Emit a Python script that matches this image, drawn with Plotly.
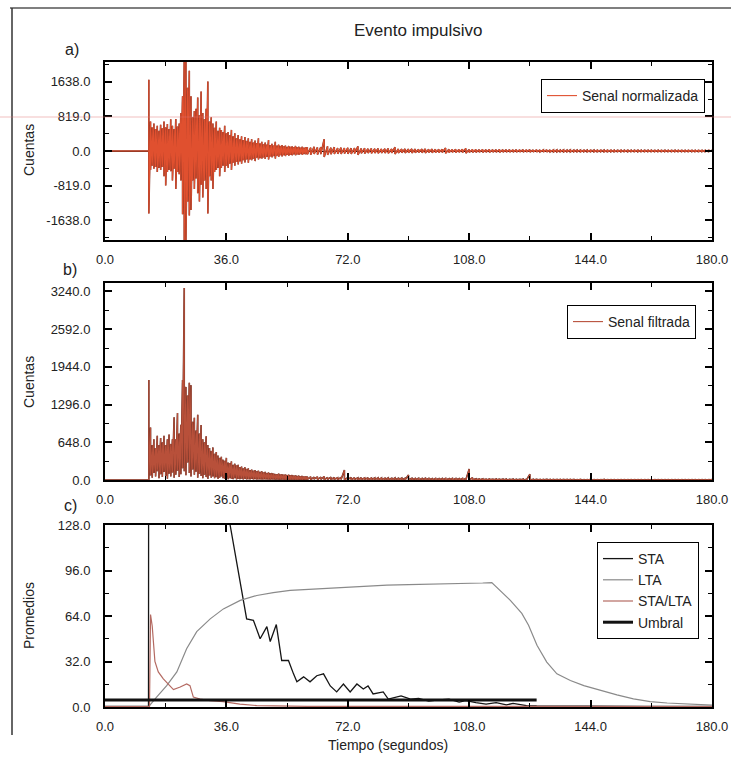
import numpy as np
import plotly.graph_objects as go

FONT = "Liberation Sans Narrow, Liberation Sans, Arial, sans-serif"

# ---------------- tick labels ----------------
x_tickvals = [0, 36, 72, 108, 144, 180]
x_ticktext = ["0.0", "36.0", "72.0", "108.0", "144.0", "180.0"]
a_tickvals = [-1638, -819, 0, 819, 1638]
a_ticktext = ["-1638.0", "-819.0", "0.0", "819.0", "1638.0"]
b_tickvals = [0, 648, 1296, 1944, 2592, 3240]
b_ticktext = ["0.0", "648.0", "1296.0", "1944.0", "2592.0", "3240.0"]
c_tickvals = [0, 32, 64, 96, 128]
c_ticktext = ["0.0", "32.0", "64.0", "96.0", "128.0"]

# ---------------- sampling grids (s) ----------------
t_pre = [0.0, 13.0]
t_strong = np.arange(13.0, 60.0, 0.5)   # 94 samples
t_coda = np.arange(60.0, 181.0, 1.0)    # 121 samples

# ---------------- a) normalized signal: positive / negative peaks ----------------
a_pre = [0, 0]
a_up_strong = [
    1690, 700, 560, 650, 520, 600, 480, 620, 540, 700,
    560, 640, 520, 750, 600, 520, 760, 580, 650, 900,
    1300, 2200, 2150, 1500, 1900, 1300, 800, 950, 1000, 1270,
    850, 1410, 900, 750, 1000, 1650, 700, 800, 650, 550,
    700, 480, 550, 500, 450, 600, 420, 450, 380, 500,
    350, 420, 300, 380, 280, 350, 260, 330, 240, 300,
    220, 280, 200, 250, 190, 300, 180, 220, 160, 200,
    150, 260, 140, 170, 130, 220, 130, 150, 120, 140,
    110, 130, 100, 120, 100, 110, 90, 120, 90, 100,
    80, 100, 80, 90]
a_lo_strong = [
    -1480, -450, -350, -420, -380, -500, -400, -450, -380, -600,
    -820, -500, -450, -480, -700, -420, -900, -500, -550, -700,
    -1500, -2200, -2150, -1200, -1530, -1400, -700, -900, -650, -1000,
    -1200, -800, -1100, -700, -900, -1480, -600, -700, -900, -500,
    -450, -400, -600, -400, -350, -500, -350, -400, -300, -450,
    -280, -350, -260, -320, -250, -300, -220, -270, -200, -280,
    -200, -220, -180, -240, -160, -200, -170, -180, -150, -190,
    -140, -200, -130, -150, -120, -180, -110, -140, -100, -130,
    -100, -120, -90, -110, -90, -100, -80, -100, -80, -90,
    -70, -90, -70, -80]
a_up_coda = [
    90, 80, 100, 85, 90, 280, 110, 80, 90, 70,
    80, 70, 75, 65, 70, 110, 60, 65, 55, 60,
    55, 60, 50, 55, 60, 50, 90, 50, 45, 50,
    45, 50, 45, 40, 45, 50, 40, 45, 40, 40,
    40, 70, 40, 35, 40, 35, 40, 60, 35, 35,
    35, 30, 35, 30, 35, 30, 30, 35, 30, 30,
    30, 28, 30, 28, 30, 28, 30, 25, 28, 25,
    25, 28, 25, 25, 25, 22, 25, 22, 25, 22,
    22, 22, 20, 22, 20, 22, 20, 20, 22, 20,
    20, 20, 18, 20, 18, 20, 18, 18, 20, 18,
    18, 18, 18, 16, 18, 16, 18, 16, 16, 18,
    16, 16, 16, 15, 16, 15, 16, 15, 15, 16, 15]
a_lo_coda = [
    -80, -90, -70, -85, -75, -140, -90, -75, -70, -65,
    -70, -60, -65, -70, -60, -90, -55, -60, -50, -55,
    -50, -55, -45, -50, -55, -45, -70, -45, -40, -45,
    -40, -45, -40, -35, -40, -45, -35, -40, -35, -35,
    -35, -55, -35, -30, -35, -30, -35, -50, -30, -30,
    -30, -28, -30, -28, -30, -25, -28, -30, -25, -25,
    -25, -25, -25, -22, -25, -22, -25, -22, -22, -20,
    -22, -22, -20, -20, -20, -18, -20, -18, -20, -18,
    -18, -18, -16, -18, -16, -18, -16, -16, -18, -16,
    -16, -16, -15, -16, -15, -16, -15, -15, -16, -15,
    -15, -15, -14, -15, -14, -15, -14, -14, -15, -14,
    -14, -14, -13, -14, -13, -14, -13, -13, -14, -13, -13]

# ---------------- b) filtered signal: peaks / troughs ----------------
b_pre = [0, 0]
b_up_strong = [
    1720, 900, 600, 700, 550, 760, 600, 720, 650, 760,
    600, 700, 780, 620, 700, 1080, 700, 1150, 800, 950,
    1720, 3300, 1600, 1450, 1670, 1630, 1000, 1070, 850, 1120,
    800, 945, 700, 650, 750, 600, 550, 500, 560, 450,
    480, 420, 380, 400, 350, 330, 380, 300, 290, 320,
    260, 280, 250, 260, 220, 230, 200, 220, 190, 200,
    170, 180, 160, 170, 150, 160, 140, 150, 130, 140,
    120, 130, 115, 120, 110, 105, 100, 110, 95, 100,
    90, 95, 85, 90, 80, 85, 75, 80, 70, 75,
    65, 70, 60, 65]
b_lo_strong = [
    0, 80, 40, 120, 60, 150, 30, 100, 50, 140,
    70, 20, 110, 60, 130, 40, 90, 160, 50, 100,
    200, 150, 80, 300, 120, 60, 180, 90, 140, 40,
    110, 70, 30, 90, 50, 20, 80, 40, 60, 30,
    50, 20, 40, 60, 30, 20, 40, 15, 30, 20,
    15, 30, 10, 20, 15, 25, 10, 20, 10, 15,
    10, 20, 10, 15, 8, 12, 10, 8, 12, 10,
    8, 10, 6, 8, 10, 6, 8, 6, 5, 8,
    5, 6, 5, 4, 6, 5, 4, 5, 4, 3,
    4, 3, 4, 3]
b_up_coda = [
    60, 55, 50, 55, 50, 60, 45, 50, 45, 40,
    45, 170, 40, 45, 40, 38, 40, 35, 40, 35,
    35, 38, 35, 32, 35, 30, 35, 30, 32, 30,
    85, 30, 28, 30, 28, 30, 28, 25, 28, 25,
    25, 28, 25, 28, 25, 25, 28, 25, 190, 40,
    20, 18, 20, 15, 18, 15, 18, 15, 15, 15,
    12, 15, 12, 12, 15, 12, 100, 12, 12, 10,
    10, 12, 10, 10, 10, 10, 10, 10, 10, 10,
    8, 10, 8, 8, 10, 8, 8, 8, 10, 8,
    8, 8, 8, 8, 8, 8, 8, 8, 8, 8,
    6, 8, 6, 6, 8, 6, 6, 6, 8, 6,
    6, 6, 6, 6, 6, 6, 6, 6, 6, 6, 6]
b_lo_coda = [
    10, 5, 15, 8, 12, 5, 10, 6, 12, 5,
    8, 4, 10, 5, 8, 4, 8, 5, 6, 4,
    6, 3, 6, 4, 5, 3, 5, 3, 4, 3,
    4, 3, 4, 2, 4, 3, 3, 2, 3, 2,
    3, 2, 3, 2, 3, 2, 2, 2, 3, 2,
    2, 1, 2, 1, 2, 1, 2, 1, 1, 1,
    1, 1, 1, 1, 1, 1, 1, 1, 1, 1,
    1, 1, 1, 1, 1, 1, 1, 1, 1, 1,
    1, 1, 1, 1, 1, 1, 1, 1, 1, 1,
    1, 1, 1, 1, 1, 1, 1, 1, 1, 1,
    1, 1, 1, 1, 1, 1, 1, 1, 1, 1,
    1, 1, 1, 1, 1, 1, 1, 1, 1, 1, 1]

# ---------------- c) averages ----------------
sta_t = [0, 12.9, 13.1, 20, 30, 37.1, 42.0, 44.0, 46.0, 48.0, 49.0, 50.8, 52.4, 54.4,
         55.9, 56.9, 58.9, 60.8, 62.8, 64.8, 66.8, 68.7, 70.7, 72.7, 74.7, 76.6, 78.0,
         79.5, 82.5, 84.0, 87.8, 90.6, 93.0, 96.0, 99.0, 102.0, 105.0, 107.0, 110.0,
         113.0, 116.0, 119.0, 121.0, 125.0, 128.0, 140.0, 160.0, 180.0]
sta_v = [0.5, 0.5, 900, 500, 250, 128, 62, 61, 48, 56.5, 46, 58, 32.7, 32.7,
         23.3, 17.7, 21.2, 17.7, 22, 23.3, 14.8, 10.6, 16.2, 10.6, 16.2, 12.7, 14.8,
         9.2, 10.6, 5.6, 7.8, 5.6, 6, 4.2, 5, 5.6, 3.5, 4.5, 3,
         2, 3, 1.5, 2.5, 1, 0.8, 0.6, 0.5, 0.5]
lta_t = [0, 13.0, 15.3, 18.3, 21.3, 24.2, 27.2, 31.2, 35.1, 40.1, 45.0, 49.9, 54.9,
         64.8, 74.7, 83.6, 90, 100, 108, 112, 114.7, 117.2, 120.2, 123.6, 125.6, 128.1,
         131.0, 134.0, 138.0, 142.0, 146.9, 151.8, 156.7, 161.7, 166.7, 171.6, 178.5, 180]
lta_v = [0.3, 0.5, 7, 15, 24.7, 41, 53, 62, 69, 75, 78.4, 80.5, 82,
         83.4, 84.8, 85.7, 86, 86.5, 86.5, 87.2, 87.5, 82, 75, 65.8, 57.5, 43.4,
         31.6, 23.3, 18.6, 15, 11.5, 8.5, 5.7, 3.8, 2.8, 2.1, 1.4, 1.3]
ratio_t = [0, 13.2, 13.5, 14.0, 14.8, 15.8, 17.3, 18.8, 20.3, 22.3, 24.2, 25.2, 26.2,
           28.2, 31.2, 35, 40, 45, 60, 180]
ratio_v = [0.3, 0.3, 65, 57, 32, 24.7, 19.8, 16.2, 12.2, 14.1, 16.2, 15, 7,
           5.6, 4.5, 3.8, 2, 1, 0.5, 0.3]
umbral_t = [0, 128]
umbral_v = [5, 5]


def zig(t, up, lo):
    x = np.repeat(np.asarray(t, float), 2)
    y = np.empty(2 * len(t))
    y[0::2] = up
    y[1::2] = lo
    return x, y


xa1, ya1 = zig(t_strong, a_up_strong, a_lo_strong)
xa2, ya2 = zig(t_coda, a_up_coda, a_lo_coda)
xa = np.concatenate([t_pre, xa1, xa2])
ya = np.concatenate([a_pre, ya1, ya2])

xb1, yb1 = zig(t_strong, b_up_strong, b_lo_strong)
xb2, yb2 = zig(t_coda, b_up_coda, b_lo_coda)
xb = np.concatenate([t_pre, xb1, xb2])
yb = np.concatenate([b_pre, yb1, yb2])

fig = go.Figure()
# panel a
fig.add_trace(go.Scatter(x=xa, y=ya, mode="lines", line=dict(color="#7a3024", width=1.6),
                         showlegend=False, hoverinfo="skip", xaxis="x", yaxis="y"))
fig.add_trace(go.Scatter(x=xa, y=ya, mode="lines", line=dict(color="#e0502f", width=1.1),
                         name="Senal normalizada", legend="legend", xaxis="x", yaxis="y"))
# panel b
fig.add_trace(go.Scatter(x=xb, y=yb, mode="lines", line=dict(color="#5a2a22", width=1.6),
                         showlegend=False, hoverinfo="skip", xaxis="x2", yaxis="y2"))
fig.add_trace(go.Scatter(x=xb, y=yb, mode="lines", line=dict(color="#b8503a", width=1.1),
                         name="Senal filtrada", legend="legend2", xaxis="x2", yaxis="y2"))
# panel c
fig.add_trace(go.Scatter(x=sta_t, y=sta_v, mode="lines", line=dict(color="#151515", width=1.3),
                         name="STA", legend="legend3", xaxis="x3", yaxis="y3"))
fig.add_trace(go.Scatter(x=lta_t, y=lta_v, mode="lines", line=dict(color="#8a8a8a", width=1.2),
                         name="LTA", legend="legend3", xaxis="x3", yaxis="y3"))
fig.add_trace(go.Scatter(x=ratio_t, y=ratio_v, mode="lines", line=dict(color="#b46a62", width=1.2),
                         name="STA/LTA", legend="legend3", xaxis="x3", yaxis="y3"))
fig.add_trace(go.Scatter(x=umbral_t, y=umbral_v, mode="lines", line=dict(color="#111111", width=3),
                         name="Umbral", legend="legend3", xaxis="x3", yaxis="y3"))

W, H = 731, 761
XD = [105 / W, 712 / W]


def ydom(top, bottom):
    return [1 - bottom / H, 1 - top / H]


tickfont = dict(family=FONT, size=13, color="#222")
common = dict(showline=True, linecolor="black", linewidth=2, mirror="allticks",
              ticks="inside", ticklen=7, tickwidth=1.5, tickcolor="black",
              showgrid=False, zeroline=False, tickfont=tickfont, tickmode="array",
              fixedrange=True, automargin=False)


def xax(anchor):
    return dict(common, domain=XD, range=[0, 180], tickvals=x_tickvals, ticktext=x_ticktext,
                anchor=anchor, ticklabelstandoff=6,
                minor=dict(ticks="inside", ticklen=4, tickwidth=1, tickcolor="black",
                           dtick=18, tick0=0, showgrid=False))


fig.update_layout(
    width=W, height=H, autosize=False,
    margin=dict(l=0, r=0, t=0, b=0, pad=0),
    paper_bgcolor="white", plot_bgcolor="white",
    font=dict(family=FONT, color="#222"),
    xaxis=xax("y"), xaxis2=xax("y2"), xaxis3=xax("y3"),
    yaxis=dict(common, domain=ydom(62, 240), range=[-2110, 2110], tickvals=a_tickvals,
               ticktext=a_ticktext, anchor="x", ticklabelstandoff=10,
               zeroline=True, zerolinecolor="black", zerolinewidth=1,
               minor=dict(ticks="inside", ticklen=4, tickwidth=1, tickcolor="black",
                          dtick=409.5, tick0=0, showgrid=False)),
    yaxis2=dict(common, domain=ydom(283, 480), range=[0, 3385], tickvals=b_tickvals,
                ticktext=b_ticktext, anchor="x2", ticklabelstandoff=10,
                minor=dict(ticks="inside", ticklen=4, tickwidth=1, tickcolor="black",
                           dtick=324, tick0=0, showgrid=False)),
    yaxis3=dict(common, domain=ydom(525, 707), range=[0, 128], tickvals=c_tickvals,
                ticktext=c_ticktext, anchor="x3", ticklabelstandoff=10,
                minor=dict(ticks="inside", ticklen=4, tickwidth=1, tickcolor="black",
                           dtick=16, tick0=0, showgrid=False)),
    legend=dict(x=705 / W, y=1 - 79 / H, xanchor="right", yanchor="top",
                bgcolor="white", bordercolor="black", borderwidth=1,
                font=dict(family=FONT, size=14, color="#222")),
    legend2=dict(x=696 / W, y=1 - 305 / H, xanchor="right", yanchor="top",
                 bgcolor="white", bordercolor="black", borderwidth=1,
                 font=dict(family=FONT, size=14, color="#222")),
    legend3=dict(x=699 / W, y=1 - 542 / H, xanchor="right", yanchor="top",
                 bgcolor="white", bordercolor="black", borderwidth=1, tracegroupgap=0,
                 font=dict(family=FONT, size=14, color="#222")),
)


def ann(text, x, y, size=14, angle=0):
    fig.add_annotation(text=text, x=x / W, y=1 - y / H, xref="paper", yref="paper",
                       showarrow=False, textangle=angle, xanchor="center", yanchor="middle",
                       font=dict(family=FONT, size=size, color="#222"))


ann("Evento impulsivo", 418, 31, 17)
ann("a)", 72, 49, 16)
ann("b)", 70, 270, 16)
ann("c)", 70, 506, 16)
ann("Cuentas", 29, 150, 14, -90)
ann("Cuentas", 29, 382, 14, -90)
ann("Promedios", 29, 616, 14, -90)
ann("Tiempo (segundos)", 388, 745, 14)

# scan frame artifacts
fig.add_shape(type="line", xref="paper", yref="paper", x0=10 / W, x1=1, y0=1 - 8 / H, y1=1 - 8 / H,
              line=dict(color="#555", width=1.5))
fig.add_shape(type="line", xref="paper", yref="paper", x0=12 / W, x1=12 / W, y0=1 - 8 / H,
              y1=1 - 735 / H, line=dict(color="#333", width=1.5))
fig.add_shape(type="line", xref="paper", yref="paper", x0=0, x1=1, y0=1 - 117 / H, y1=1 - 117 / H,
              line=dict(color="rgba(225,110,110,0.45)", width=1))

fig.write_html("out.html", config={"displayModeBar": False},
               post_script="document.body.style.margin='0';document.body.style.padding='0';"
                           "document.body.style.overflow='hidden';"
                           "document.documentElement.style.overflow='hidden';")
